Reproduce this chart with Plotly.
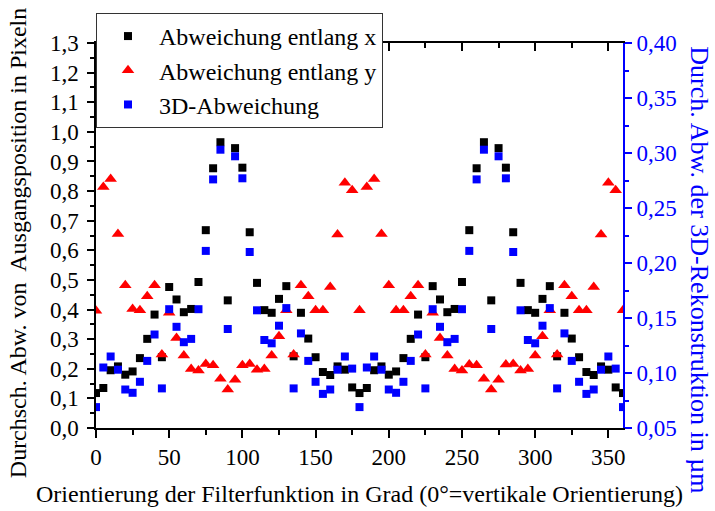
import plotly.graph_objects as go

# Orientation angles (degrees), every 5 degrees from 0 to 360
angles = list(range(0, 365, 5))

# Abweichung entlang x (pixels)
dev_x = [0.118, 0.135, 0.195, 0.208, 0.180, 0.191, 0.236, 0.301, 0.383, 0.239,
         0.476, 0.434, 0.391, 0.402, 0.493, 0.668, 0.877, 0.965, 0.431, 0.945,
         0.879, 0.661, 0.490, 0.398, 0.389, 0.436, 0.479, 0.242, 0.389, 0.302,
         0.239, 0.189, 0.179, 0.208, 0.197, 0.137, 0.118,
         0.135, 0.195, 0.208, 0.180, 0.191, 0.236, 0.301, 0.383, 0.239,
         0.479, 0.434, 0.391, 0.402, 0.493, 0.668, 0.877, 0.965, 0.431, 0.945,
         0.879, 0.661, 0.490, 0.398, 0.389, 0.436, 0.479, 0.242, 0.389, 0.302,
         0.239, 0.189, 0.179, 0.208, 0.197, 0.137, 0.118]

# Abweichung entlang y (pixels)
dev_y = [0.396, 0.814, 0.841, 0.655, 0.482, 0.402, 0.398, 0.445, 0.482, 0.248,
         0.389, 0.304, 0.245, 0.199, 0.194, 0.216, 0.212, 0.166, 0.130, 0.163,
         0.212, 0.216, 0.197, 0.199, 0.245, 0.310, 0.398, 0.248, 0.482, 0.445,
         0.398, 0.398, 0.476, 0.653, 0.828, 0.803, 0.398,
         0.814, 0.841, 0.655, 0.482, 0.398, 0.398, 0.445, 0.482, 0.248,
         0.389, 0.304, 0.245, 0.199, 0.194, 0.214, 0.212, 0.166, 0.130, 0.163,
         0.214, 0.216, 0.194, 0.199, 0.245, 0.310, 0.398, 0.248, 0.482, 0.445,
         0.398, 0.398, 0.476, 0.653, 0.828, 0.803, 0.398]

# 3D-Abweichung (µm), right axis
dev_3d = [0.069, 0.105, 0.115, 0.103, 0.085, 0.082, 0.092, 0.111, 0.135, 0.086,
          0.158, 0.142, 0.128, 0.131, 0.158, 0.211, 0.276, 0.303, 0.140, 0.297,
          0.277, 0.210, 0.157, 0.130, 0.127, 0.143, 0.159, 0.086, 0.136, 0.111,
          0.092, 0.081, 0.085, 0.103, 0.115, 0.104, 0.069,
          0.105, 0.115, 0.103, 0.085, 0.082, 0.092, 0.111, 0.135, 0.086,
          0.158, 0.142, 0.128, 0.131, 0.158, 0.211, 0.276, 0.303, 0.140, 0.297,
          0.277, 0.210, 0.157, 0.130, 0.127, 0.143, 0.159, 0.086, 0.136, 0.111,
          0.092, 0.081, 0.085, 0.103, 0.115, 0.104, 0.069]

FONT = "Liberation Serif"
BLUE = "#0000FF"

fig = go.Figure()
fig.add_trace(go.Scatter(x=angles, y=dev_x, mode="markers", name="Abweichung entlang x",
                         marker=dict(symbol="square", size=8, color="black")))
fig.add_trace(go.Scatter(x=angles, y=dev_y, mode="markers", name="Abweichung entlang y",
                         marker=dict(symbol="triangle-up", size=11, color="#FF0000")))
fig.add_trace(go.Scatter(x=angles, y=dev_3d, mode="markers", name="3D-Abweichung",
                         yaxis="y2",
                         marker=dict(symbol="square", size=8, color=BLUE)))
# invisible helper trace so the top (mirror) axis is drawn
fig.add_trace(go.Scatter(x=[0], y=[0], xaxis="x2", mode="markers",
                         marker=dict(opacity=0), showlegend=False, hoverinfo="skip"))

fig.update_layout(
    width=715, height=511,
    margin=dict(l=96, r=92, t=43, b=83, autoexpand=False),
    paper_bgcolor="white", plot_bgcolor="white",
    separators=", ",
    font=dict(family=FONT, size=22, color="black"),
    showlegend=True,
    legend=dict(x=0, y=1.078, xanchor="left", yanchor="top",
                bgcolor="white", bordercolor="#333333", borderwidth=1,
                font=dict(family=FONT, size=24), itemwidth=52,
                tracegroupgap=0),
    xaxis=dict(range=[0, 360], dtick=50, tick0=0, showgrid=False, zeroline=False,
               automargin=False,
               showline=True, linecolor="black", linewidth=1.5,
               ticks="outside", ticklen=8, tickwidth=1.5, tickcolor="black",
               minor=dict(dtick=25, ticks="outside", ticklen=5, tickwidth=1.5, tickcolor="black"),
               tickfont=dict(family=FONT, size=23)),
    xaxis2=dict(range=[0, 360], dtick=50, tick0=0, overlaying="x", side="top", anchor="y",
                automargin=False,
                showgrid=False, zeroline=False, showticklabels=False,
                showline=True, linecolor="black", linewidth=1.5,
                ticks="inside", ticklen=8, tickwidth=1.5, tickcolor="black",
                minor=dict(dtick=25, ticks="inside", ticklen=5, tickwidth=1.5, tickcolor="black")),
    yaxis=dict(range=[0, 1.3], dtick=0.1, tick0=0, tickformat=".1f", showgrid=False,
               automargin=False,
               zeroline=False, showline=True, linecolor="black", linewidth=1.5,
               ticks="outside", ticklen=7, tickwidth=1.5, tickcolor="black",
               minor=dict(dtick=0.05, ticks="outside", ticklen=4, tickwidth=1.5, tickcolor="black"),
               ticklabelstandoff=4,
               tickfont=dict(family=FONT, size=23)),
    yaxis2=dict(range=[0.05, 0.40], dtick=0.05, tick0=0.05, tickformat=".2f",
                overlaying="y", side="right", anchor="x", automargin=False,
                showgrid=False, zeroline=False, showline=True,
                linecolor=BLUE, linewidth=2,
                ticks="outside", ticklen=7, tickwidth=1.5, tickcolor=BLUE,
                minor=dict(dtick=0.025, ticks="outside", ticklen=4, tickwidth=1.5, tickcolor=BLUE),
                tickfont=dict(family=FONT, size=23, color=BLUE)),
    annotations=[
        dict(text="Orientierung der Filterfunktion in Grad (0°=vertikale Orientierung)",
             xref="paper", yref="paper", x=0.5, y=-0.171, xanchor="center", yanchor="middle",
             showarrow=False, font=dict(family=FONT, size=24, color="black")),
        dict(text="Durchsch. Abw. von\u00a0 Ausgangsposition in Pixeln",
             xref="paper", yref="paper", x=-0.148, y=0.48, xanchor="center", yanchor="middle",
             textangle=-90, showarrow=False, font=dict(family=FONT, size=24, color="black")),
        dict(text="Durch. Abw. der 3D-Rekonstruktion in µm",
             xref="paper", yref="paper", x=1.146, y=0.41, xanchor="center", yanchor="middle",
             textangle=90, showarrow=False, font=dict(family=FONT, size=26, color=BLUE)),
    ],
)

fig.write_html("out.html", config={"displayModeBar": False},
               post_script="document.body.style.margin='0px';")
